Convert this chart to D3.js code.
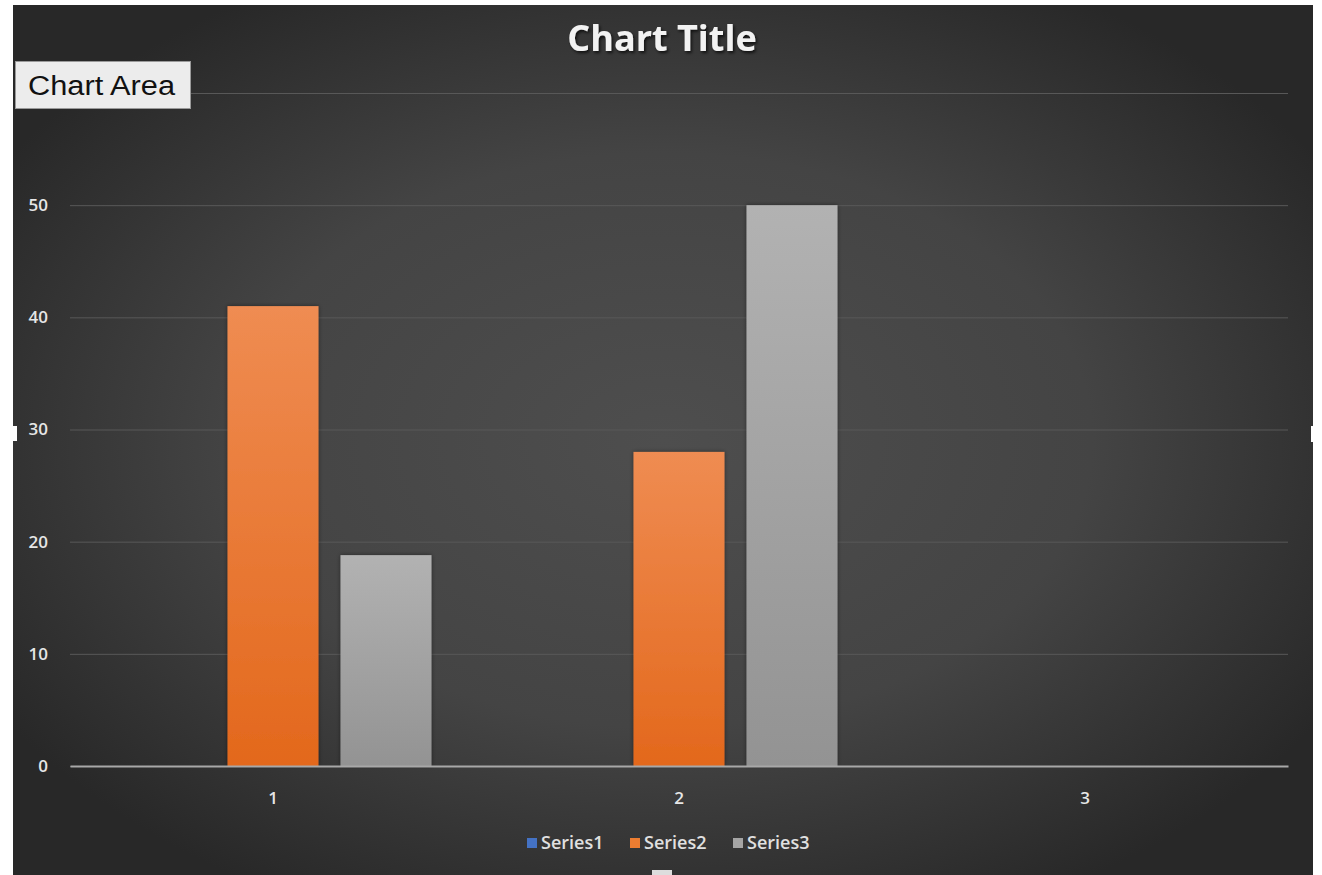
<!DOCTYPE html>
<html>
<head>
<meta charset="utf-8">
<script src="https://cdn.jsdelivr.net/npm/d3@7"></script>
<style>
  html, body { margin: 0; padding: 0; background: #fff; }
  svg { display: block; }
</style>
</head>
<body>
<svg id="chart" width="1322" height="875"></svg>
<script>
// Chart data.
var categories = ["1", "2", "3"];
var seriesNames = ["Series1", "Series2", "Series3"];
var series1 = [0, 0, 0];
var series2 = [41, 28, 0];
var series3 = [18.8, 50, 0];
var yTicks = [0, 10, 20, 30, 40, 50, 60];

var width = 1322, height = 875;
var margin = { left: 70, right: 34, top: 93, bottom: 109 };

var svg = d3.select("#chart");
var defs = svg.append("defs");

// Dark radial background of the chart area.
var bg = defs.append("radialGradient")
  .attr("id", "bgGrad")
  .attr("cx", "50%").attr("cy", "50%").attr("r", "60%");
bg.append("stop").attr("offset", "0%").attr("stop-color", "#4e4e4e");
bg.append("stop").attr("offset", "55%").attr("stop-color", "#444444");
bg.append("stop").attr("offset", "100%").attr("stop-color", "#282828");

function barGradient(id, top, bottom) {
  var g = defs.append("linearGradient")
    .attr("id", id)
    .attr("x1", 0).attr("y1", 0).attr("x2", 0).attr("y2", 1);
  g.append("stop").attr("offset", "0%").attr("stop-color", top);
  g.append("stop").attr("offset", "100%").attr("stop-color", bottom);
}
barGradient("g1", "#5a86d0", "#3a68b8");
barGradient("g2", "#ef8c52", "#e3681c");
barGradient("g3", "#b2b2b2", "#939393");

var shadow = defs.append("filter").attr("id", "shadow")
  .attr("x", "-10%").attr("y", "-20%").attr("width", "130%").attr("height", "150%");
shadow.append("feDropShadow")
  .attr("dx", 1.5).attr("dy", 2).attr("stdDeviation", 1.5)
  .attr("flood-color", "#000").attr("flood-opacity", 0.7);

var barShadow = defs.append("filter").attr("id", "barShadow")
  .attr("x", "-20%").attr("y", "-5%").attr("width", "140%").attr("height", "110%");
barShadow.append("feDropShadow")
  .attr("dx", 0).attr("dy", 0).attr("stdDeviation", 2)
  .attr("flood-color", "#000").attr("flood-opacity", 0.45);

svg.append("rect")
  .attr("x", 13).attr("y", 5)
  .attr("width", 1300).attr("height", height - 5)
  .attr("fill", "url(#bgGrad)");

var x = d3.scaleBand()
  .domain(categories)
  .range([margin.left, width - margin.right]);

var xInner = d3.scaleBand()
  .domain(seriesNames)
  .range([0, x.bandwidth()])
  .paddingInner(0.195)
  .paddingOuter(0.394);

var y = d3.scaleLinear()
  .domain([0, 60])
  .range([height - margin.bottom, margin.top]);

// Gridlines
var grid = svg.append("g")
  .attr("transform", "translate(" + margin.left + ",0)")
  .call(d3.axisLeft(y).tickValues(yTicks)
    .tickSize(-(width - margin.left - margin.right)).tickFormat(""));
grid.select(".domain").remove();
grid.selectAll("line")
  .attr("stroke", "#585858")
  .attr("stroke-width", 1);

// Bars
var seriesData = [series1, series2, series3];
var fills = ["url(#g1)", "url(#g2)", "url(#g3)"];
var barGroup = svg.append("g");
seriesData.forEach(function(values, si) {
  barGroup.append("g").selectAll("rect")
    .data(values)
    .enter().append("rect")
      .attr("x", function(d, i) { return x(categories[i]) + xInner(seriesNames[si]); })
      .attr("y", function(d) { return y(d); })
      .attr("width", xInner.bandwidth())
      .attr("height", function(d) { return y(0) - y(d); })
      .attr("fill", fills[si])
      .attr("filter", "url(#barShadow)");
});

// Y axis labels (the top one sits under the "Chart Area" tooltip, so it is left blank)
var yAxis = svg.append("g")
  .attr("transform", "translate(" + margin.left + ",0)")
  .call(d3.axisLeft(y).tickValues(yTicks).tickSize(0).tickPadding(22)
    .tickFormat(function(d) { return d === 60 ? "" : d; }));
yAxis.select(".domain").remove();
yAxis.selectAll("text")
  .attr("fill", "#e6e6e6")
  .style("font-family", "'Open Sans', sans-serif")
  .style("font-size", "17px")
  .style("font-weight", "600");

// X axis
var xAxis = svg.append("g")
  .attr("transform", "translate(0," + y(0) + ")")
  .call(d3.axisBottom(x).tickSize(0).tickPadding(26));
xAxis.select(".domain")
  .attr("stroke", "#a8a8a8")
  .attr("stroke-width", 2);
xAxis.selectAll("text")
  .attr("fill", "#e6e6e6")
  .style("font-family", "'Open Sans', sans-serif")
  .style("font-size", "17px")
  .style("font-weight", "600");

// Title
svg.append("text")
  .attr("x", 662).attr("y", 51)
  .attr("text-anchor", "middle")
  .attr("fill", "#f2f2f2")
  .attr("filter", "url(#shadow)")
  .style("font-family", "'Open Sans', sans-serif")
  .style("font-size", "36px")
  .style("font-weight", "700")
  .text("Chart Title");

// Legend
var legendColors = ["#4472c4", "#ed7d31", "#a5a5a5"];
var legendX = [527, 630, 733];
var legend = svg.append("g").selectAll("g")
  .data(seriesNames)
  .enter().append("g")
    .attr("transform", function(d, i) { return "translate(" + legendX[i] + ",843)"; });
legend.append("rect")
  .attr("x", 0).attr("y", -5)
  .attr("width", 10).attr("height", 10)
  .attr("fill", function(d, i) { return legendColors[i]; });
legend.append("text")
  .attr("x", 14).attr("y", 0)
  .attr("dy", "0.35em")
  .attr("fill", "#e0e0e0")
  .style("font-family", "'Open Sans', sans-serif")
  .style("font-size", "18px")
  .style("font-weight", "600")
  .text(function(d) { return d; });

// "Chart Area" tooltip box
var tip = svg.append("g");
tip.append("rect")
  .attr("x", 15.5).attr("y", 61.5)
  .attr("width", 175).attr("height", 47)
  .attr("fill", "#ececec")
  .attr("stroke", "#9a9a9a");
tip.append("text")
  .attr("x", 28).attr("y", 95)
  .attr("fill", "#111")
  .attr("textLength", 147)
  .attr("lengthAdjust", "spacingAndGlyphs")
  .style("font-family", "'Liberation Sans', Arial, sans-serif")
  .style("font-size", "27px")
  .text("Chart Area");

// Selection handles
svg.append("rect").attr("x", 9).attr("y", 426).attr("width", 8).attr("height", 15).attr("fill", "#fff");
svg.append("rect").attr("x", 1311).attr("y", 426).attr("width", 8).attr("height", 16).attr("fill", "#fff");
svg.append("rect").attr("x", 652).attr("y", 870).attr("width", 20).attr("height", 8).attr("fill", "#ddd");
</script>
</body>
</html>
